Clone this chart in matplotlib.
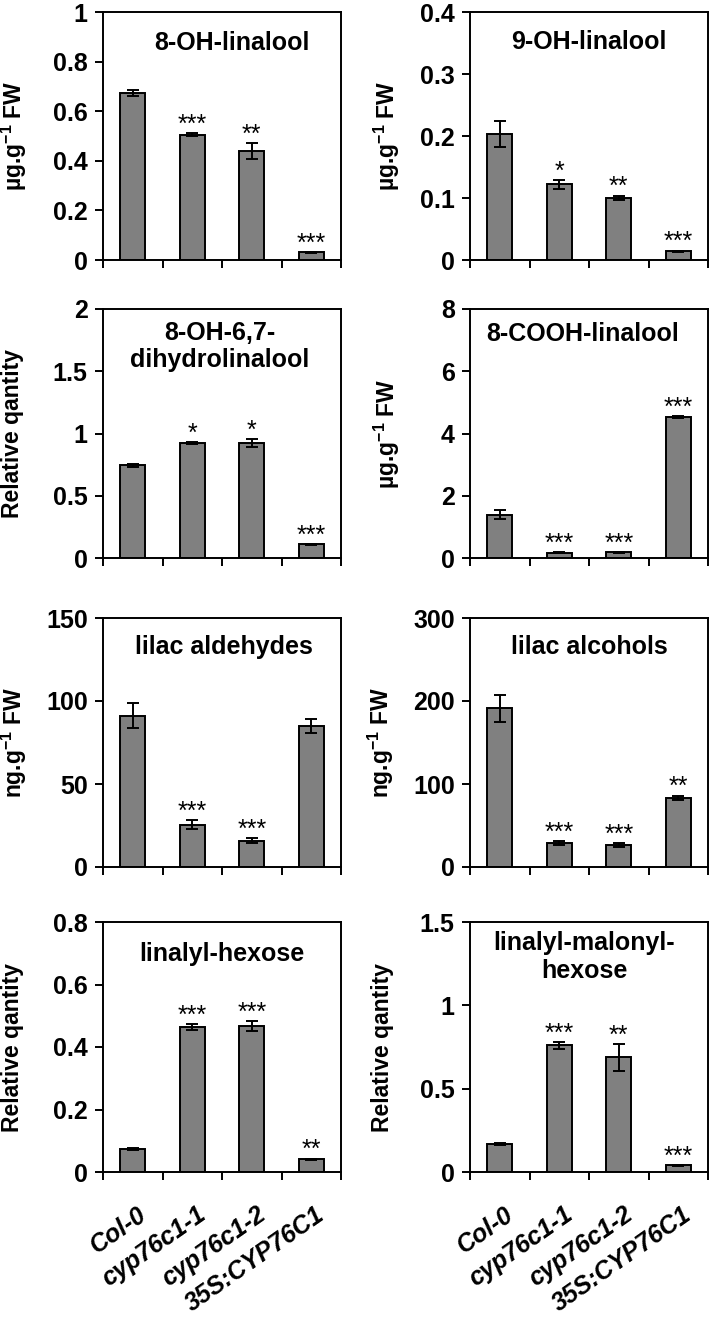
import matplotlib
matplotlib.use("Agg")
import matplotlib.pyplot as plt
import numpy as np

plt.rcParams['font.family'] = ['Liberation Sans', 'DejaVu Sans']
plt.rcParams['font.weight'] = 'bold'
plt.rcParams['mathtext.fontset'] = 'custom'
plt.rcParams['mathtext.rm'] = 'Liberation Sans:bold'
plt.rcParams['mathtext.bf'] = 'Liberation Sans:bold'
plt.rcParams['mathtext.it'] = 'Liberation Sans:bold:italic'

categories = ["Col-0", "cyp76c1-1", "cyp76c1-2", "35S:CYP76C1"]

titles = ["8-OH-linalool", "9-OH-linalool",
          "8-OH-6,7-\ndihydrolinalool", "8-COOH-linalool",
          "lilac aldehydes", "lilac alcohols",
          "linalyl-hexose", "linalyl-malonyl-\nhexose"]

ug = r"µg.g$^{\mathbf{-1}}$ FW"
ng = r"ng.g$^{\mathbf{-1}}$ FW"
rq = "Relative qantity"
ylabels = [ug, ug, rq, ug, ng, ng, rq, rq]

ymax = [1.0, 0.4, 2.0, 8.0, 150, 300, 0.8, 1.5]
ystep = [0.2, 0.1, 0.5, 2.0, 50, 100, 0.2, 0.5]

v_8oh = [0.675, 0.506, 0.440, 0.031]
e_8oh = [0.012, 0.005, 0.032, 0.002]
v_9oh = [0.204, 0.122, 0.100, 0.014]
e_9oh = [0.021, 0.007, 0.004, 0.001]
v_dihydro = [0.744, 0.922, 0.922, 0.110]
e_dihydro = [0.012, 0.006, 0.032, 0.003]
v_cooh = [1.39, 0.17, 0.18, 4.54]
e_cooh = [0.15, 0.01, 0.01, 0.03]
v_ald = [91.0, 25.5, 15.8, 85.0]
e_ald = [7.5, 2.6, 1.6, 4.3]
v_alc = [191.0, 28.5, 26.5, 83.5]
e_alc = [16.0, 2.5, 2.5, 2.5]
v_hex = [0.075, 0.463, 0.467, 0.041]
e_hex = [0.003, 0.010, 0.017, 0.002]
v_mal = [0.168, 0.760, 0.688, 0.040]
e_mal = [0.006, 0.020, 0.080, 0.002]

values = [v_8oh, v_9oh, v_dihydro, v_cooh, v_ald, v_alc, v_hex, v_mal]
errors = [e_8oh, e_9oh, e_dihydro, e_cooh, e_ald, e_alc, e_hex, e_mal]

sig_8oh = ["", "***", "**", "***"]
sig_9oh = ["", "*", "**", "***"]
sig_dihydro = ["", "*", "*", "***"]
sig_cooh = ["", "***", "***", "***"]
sig_ald = ["", "***", "***", ""]
sig_alc = ["", "***", "***", "**"]
sig_hex = ["", "***", "***", "**"]
sig_mal = ["", "***", "**", "***"]
sigs = [sig_8oh, sig_9oh, sig_dihydro, sig_cooh, sig_ald, sig_alc, sig_hex, sig_mal]

W, H = 713, 1317
fig = plt.figure(figsize=(W / 100, H / 100), dpi=100)

col_x = [103, 470]
ax_w = 238
rows = [(12, 260), (309, 558), (618, 867), (922, 1172)]
label_x = [-0.31, -0.285, -0.33, -0.285, -0.31, -0.31, -0.333, -0.32]
title_x = [0.54, 0.5, 0.49, 0.475, 0.51, 0.5, 0.5, 0.48]
title_y = [0.875, 0.88, 0.85, 0.90, 0.885, 0.885, 0.87, 0.86]

FS_TICK = 18
FS_TITLE = 18
FS_YLAB = 16.5
FS_XLAB = 18
x = np.arange(len(categories))

for i in range(8):
    r, c = divmod(i, 2)
    top, bot = rows[r]
    ax = fig.add_axes([col_x[c] / W, 1 - bot / H, ax_w / W, (bot - top) / H])
    ax.bar(x, values[i], width=0.42, color="#808080", edgecolor="black",
           linewidth=1.4, zorder=2)
    ax.errorbar(x, values[i], yerr=errors[i], fmt="none", ecolor="black",
                elinewidth=1.4, capsize=4, capthick=1.4, zorder=3)
    for xi, v, e, s in zip(x, values[i], errors[i], sigs[i]):
        if s:
            ax.annotate(s, (xi, v + e), xytext=(0, 1), textcoords="offset points",
                        ha="center", va="baseline", fontsize=18,
                        fontweight="normal")
    ax.set_xlim(-0.5, len(categories) - 0.5)
    ax.set_ylim(0, ymax[i])
    ax.set_yticks(np.arange(0, ymax[i] + ystep[i] / 2, ystep[i]))
    ax.yaxis.set_major_formatter(plt.FuncFormatter(lambda v, p: f"{v:g}"))
    ax.set_xticks(np.arange(-0.5, len(categories), 1.0))
    ax.tick_params(axis="both", direction="out", length=6, width=1.4,
                   labelsize=FS_TICK, pad=5)
    ax.tick_params(axis="x", labelbottom=False)
    for sp in ax.spines.values():
        sp.set_linewidth(1.4)
    for lab in ax.get_yticklabels():
        lab.set_fontweight("bold")
    ax.set_ylabel(ylabels[i], fontsize=FS_YLAB, fontweight="bold")
    ax.yaxis.set_label_coords(label_x[i], 0.5)
    ax.text(title_x[i], title_y[i], titles[i], transform=ax.transAxes,
            ha="center", va="center", fontsize=FS_TITLE, fontweight="bold",
            linespacing=1.18)
    if r == 3:
        for xi, name in zip(x, categories):
            ax.annotate(name, (xi, 0), xycoords=("data", "axes fraction"),
                        xytext=(3, -22), textcoords="offset points",
                        rotation=35, rotation_mode="anchor", ha="right",
                        va="top", fontsize=FS_XLAB, fontweight="bold",
                        fontstyle="italic")

fig.savefig("out.png", dpi=100)
